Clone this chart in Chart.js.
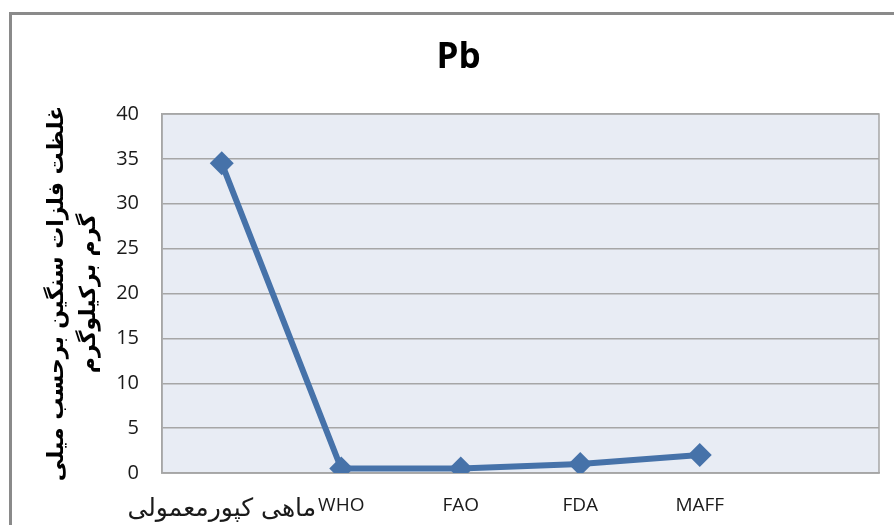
<!DOCTYPE html>
<html>
<head>
<meta charset="utf-8">
<script src="https://cdn.jsdelivr.net/npm/chart.js@4/dist/chart.umd.min.js"></script>
<style>
  html, body { margin: 0; padding: 0; background: #fff; overflow: hidden; }
  #wrap { position: relative; width: 894px; height: 525px; }
  #frame { position: absolute; left: 9px; top: 12px; width: 900px; height: 600px;
           border-left: 3px solid #8a8a8a; border-top: 3px solid #8a8a8a; box-sizing: border-box; }
  canvas { position: absolute; left: 0; top: 0; }
</style>
</head>
<body>
<div id="wrap">
  <div id="frame"></div>
  <canvas id="c" width="894" height="525"></canvas>
</div>
<script>
const categories = ['ماهی کپورمعمولی', 'WHO', 'FAO', 'FDA', 'MAFF', ''];
const pbValues = [34.5, 0.5, 0.5, 1.0, 2.0, null];
const chartTitle = 'Pb';
const yTitleLines = ['غلظت فلزات سنگین برحسب میلی', 'گرم برکیلوگرم'];
const yMin = 0, yMax = 40, yStep = 5;

const plotArea = {
  id: 'plotArea',
  beforeDraw(chart) {
    const a = chart.chartArea, ctx = chart.ctx;
    ctx.save();
    ctx.fillStyle = '#e8ecf4';
    ctx.fillRect(a.left, a.top, a.right - a.left, a.bottom - a.top);
    ctx.restore();
  },
  beforeDatasetsDraw(chart) {
    const a = chart.chartArea, ctx = chart.ctx;
    ctx.save();
    ctx.strokeStyle = '#a6a6a6';
    ctx.lineWidth = 1.5;
    ctx.strokeRect(a.left, a.top, a.right - a.left, a.bottom - a.top);
    ctx.restore();
  }
};

new Chart(document.getElementById('c'), {
  type: 'line',
  data: {
    labels: categories,
    datasets: [{
      data: pbValues,
      borderColor: '#4672a9',
      backgroundColor: '#4672a9',
      borderWidth: 6,
      pointStyle: 'rectRot',
      pointRadius: 12,
      pointBorderWidth: 0,
      tension: 0,
      spanGaps: false
    }]
  },
  options: {
    responsive: false,
    animation: false,
    layout: { padding: { top: 37, left: 38, right: 15, bottom: 0 } },
    plugins: {
      legend: { display: false },
      tooltip: { enabled: false },
      title: {
        display: true,
        text: chartTitle,
        color: '#000',
        font: { family: 'Open Sans, DejaVu Sans, sans-serif', size: 35, weight: 'bold', lineHeight: 1.2 },
        padding: { top: 0, bottom: 35 }
      }
    },
    scales: {
      x: {
        offset: true,
        grid: { display: false, drawTicks: false },
        border: { display: true, color: '#a6a6a6', width: 1.5 },
        ticks: {
          color: '#1a1a1a',
          padding: 21,
          maxRotation: 0,
          autoSkip: false,
          font: (ctx) => ctx.index === 0
            ? { family: 'DejaVu Sans, sans-serif', size: 25 }
            : { family: 'Open Sans, DejaVu Sans, sans-serif', size: 19 }
        },
        afterFit(scale) { scale.height = 52; }
      },
      y: {
        min: yMin, max: yMax,
        grid: { color: '#a6a6a6', lineWidth: 1.5, drawTicks: false },
        border: { display: true, color: '#a6a6a6', width: 1.5 },
        ticks: {
          stepSize: yStep,
          color: '#1a1a1a',
          padding: 23,
          font: { family: 'Open Sans, DejaVu Sans, sans-serif', size: 20 }
        },
        title: {
          display: true,
          text: yTitleLines,
          color: '#000',
          font: { family: 'DejaVu Sans, sans-serif', size: 22, weight: 'bold', lineHeight: 1.45 },
          padding: { top: 3, bottom: 0 }
        },
        afterFit(scale) { scale.width = 124; }
      }
    }
  },
  plugins: [plotArea]
});
</script>
</body>
</html>
